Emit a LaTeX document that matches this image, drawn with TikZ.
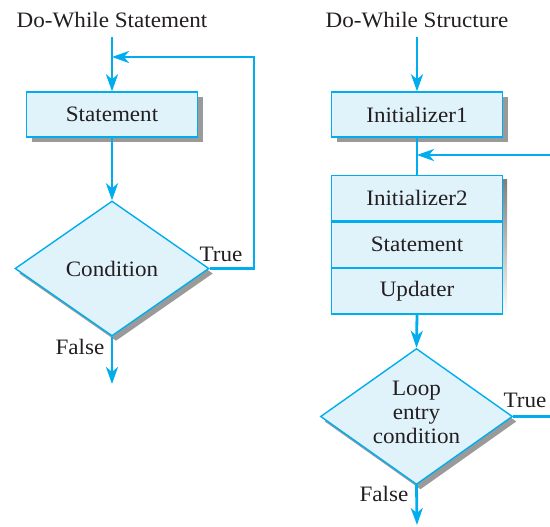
\documentclass[tikz,border=0pt]{standalone}
\usepackage{fontspec}
\setmainfont[FakeStretch=1.05]{Liberation Serif}
\usetikzlibrary{arrows.meta,shapes.geometric,shadows}
\definecolor{lineblue}{HTML}{00AEEF}
\definecolor{boxfill}{HTML}{E0F2FA}
\definecolor{txt}{HTML}{231F20}
\definecolor{shade}{HTML}{9A9A9A}
\tikzset{
  lbl/.style={font=\fontsize{22}{24}\selectfont, text=txt},
  flow/.style={draw=lineblue, line width=2.8pt, -{Stealth[length=17pt,width=12pt,inset=5pt]}},
  plain/.style={draw=lineblue, line width=2.8pt},
  blk/.style={lbl, draw=lineblue, line width=1.4pt, fill=boxfill, minimum width=171pt, minimum height=45pt, inner sep=0pt,
     drop shadow={shadow xshift=5pt, shadow yshift=-5pt, opacity=1, fill=shade}},
  blkns/.style={lbl, draw=lineblue, line width=1.4pt, fill=boxfill, minimum width=171pt, minimum height=45.3pt, inner sep=0pt},
  dec/.style={lbl, diamond, draw=lineblue, line width=1.4pt, fill=boxfill, inner sep=0pt, align=center,
     drop shadow={shadow xshift=4pt, shadow yshift=-5pt, opacity=1, fill=shade}},
}
\begin{document}
\begin{tikzpicture}[x=1pt,y=-1pt]
\useasboundingbox (0,0) rectangle (550,527);
% ---------- left ----------
\node[lbl] (t1) at (112,20) {Do-While Statement};
\coordinate (s1) at (112,37);
\node[blk] (stmt) at (112,114.5) {Statement};
\node[dec, minimum width=194pt, minimum height=135pt] (cond) at (112,268.5) {Condition};
\coordinate (j1) at (112,57);
\coordinate (r1) at (254,57);
\coordinate (r2) at (254,268.5);
\coordinate (e1) at (112,384);
\draw[flow] (s1) -- (stmt.north);
\draw[flow] (stmt.south) -- (cond.north);
\draw[flow] (cond.east) -- (r2) -- (r1) -- (j1);
\draw[flow] (cond.south) -- (e1);
\node[lbl] (tr1) at (221,254) {True};
\node[lbl] (fa1) at (80,347) {False};
% ---------- right ----------
\node[lbl] (t2) at (417,20) {Do-While Structure};
\coordinate (s2) at (417,37);
\node[blk] (init1) at (417,114.5) {Initializer1};
\fill[shade] (337,180) rectangle (507,316);
\node[blkns] (init2) at (417,198) {Initializer2};
\node[blkns, anchor=north] (stmt2) at (init2.south) {Statement};
\node[blkns, anchor=north] (upd) at (stmt2.south) {Updater};
\node[dec, minimum width=192pt, minimum height=136pt] (cond2) at (416.5,416.5) {};
\node[lbl, align=center, inner sep=0pt] (c2txt) at (416.5,412) {Loop\\entry\\condition};
\coordinate (j2) at (417,155);
\coordinate (r3) at (550,155);
\coordinate (r4) at (550,416.5);
\coordinate (e2) at (417,525);
\draw[flow] (s2) -- (init1.north);
\draw[plain] (init1.south) -- (init2.north);
\draw[flow] (r3) -- (j2);
\draw[flow] (upd.south) -- (cond2.north);
\draw[plain] (cond2.east) -- (r4);
\draw[flow] (cond2.south) -- (e2);
\node[lbl] (tr2) at (525,400) {True};
\node[lbl] (fa2) at (384,494) {False};
\end{tikzpicture}
\end{document}
